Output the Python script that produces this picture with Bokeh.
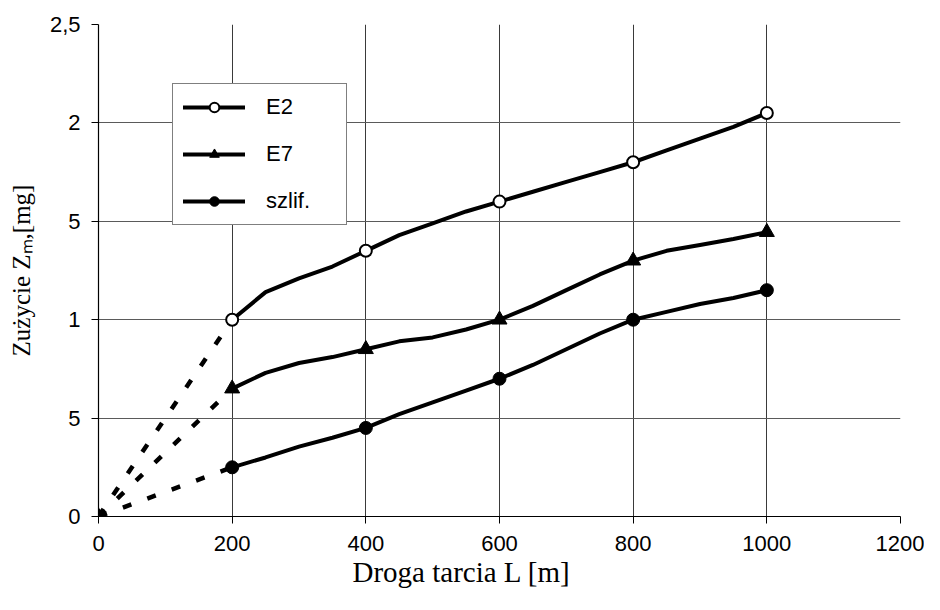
import math
from bokeh.plotting import figure
from bokeh.models import Range1d, FixedTicker, Legend, LegendItem, Title
from bokeh.embed import file_html
from bokeh.resources import INLINE

# ---- data ----
x_line = [200, 250, 300, 350, 400, 450, 500, 550, 600, 650, 700, 750, 800, 850, 900, 950, 1000]
e2_line = [1.00, 1.14, 1.21, 1.27, 1.35, 1.43, 1.49, 1.55, 1.60, 1.65, 1.70, 1.75, 1.80, 1.86, 1.92, 1.98, 2.05]
e7_line = [0.65, 0.73, 0.78, 0.81, 0.85, 0.89, 0.91, 0.95, 1.00, 1.07, 1.15, 1.23, 1.30, 1.35, 1.38, 1.41, 1.445]
szlif_line = [0.25, 0.30, 0.355, 0.40, 0.45, 0.52, 0.58, 0.64, 0.70, 0.77, 0.85, 0.93, 1.00, 1.04, 1.08, 1.11, 1.15]

x_marks = [0, 200, 400, 600, 800, 1000]
e2_marks = [0, 1.00, 1.35, 1.60, 1.80, 2.05]
e7_marks = [0, 0.65, 0.85, 1.00, 1.30, 1.445]
szlif_marks = [0, 0.25, 0.45, 0.70, 1.00, 1.15]

x_start = [0, 200]
x_ticks = [0, 200, 400, 600, 800, 1000, 1200]
y_ticks = [0, 0.5, 1.0, 1.5, 2.0, 2.5]
y_tick_labels = ["0", "5", "1", "5", "2", "2,5"]
series_names = ["E2", "E7", "szlif."]
x_title = "Droga tarcia L [m]"
y_title = "Zużycie Zₘ,[mg]"

SANS = "Liberation Sans"
SERIF = "Liberation Serif"

p = figure(width=924, height=594, output_backend="svg", toolbar_location=None,
           x_range=Range1d(0, 1200), y_range=Range1d(0, 2.5),
           min_border_left=98, min_border_right=24, min_border_top=24, min_border_bottom=78)
p.outline_line_color = None
p.background_fill_color = "white"
p.border_fill_color = "white"

# axes
p.xaxis.ticker = FixedTicker(ticks=x_ticks)
p.yaxis.ticker = FixedTicker(ticks=y_ticks)
p.yaxis.major_label_overrides = {t: l for t, l in zip(y_ticks, y_tick_labels)}
for ax in (p.xaxis, p.yaxis):
    ax.axis_line_color = "black"
    ax.axis_line_width = 1.2
    ax.major_tick_line_color = "black"
    ax.major_tick_in = 0
    ax.major_tick_out = 7
    ax.minor_tick_line_color = None
    ax.major_label_text_font = SANS
    ax.major_label_text_font_size = "22px"
    ax.major_label_text_color = "black"
p.xaxis.major_label_standoff = 12
p.yaxis.major_label_standoff = 11

# y axis title (subscript m)
p.yaxis.axis_label = y_title
p.yaxis.axis_label_text_font = SERIF
p.yaxis.axis_label_text_font_size = "25px"
p.yaxis.axis_label_text_font_style = "normal"
p.yaxis.axis_label_text_color = "black"
p.yaxis.axis_label_standoff = 12

p.xgrid.ticker = FixedTicker(ticks=x_ticks)
p.ygrid.ticker = FixedTicker(ticks=y_ticks)
p.xgrid.grid_line_color = "#3a3a3a"
p.ygrid.grid_line_color = "#5a5a5a"
p.xgrid.grid_line_width = 1
p.ygrid.grid_line_width = 1

# dotted start segments
for ys in (e2_marks, e7_marks, szlif_marks):
    p.line(x_start, ys[:2], line_color="black", line_width=4.5, line_dash="9 17", line_cap="butt")

# E2: open circles
l1 = p.line(x_line, e2_line, line_color="black", line_width=4, line_join="round", line_cap="round")
m1 = p.scatter(x_marks, e2_marks, marker="circle", size=12, fill_color="white", line_color="black", line_width=2)
# E7: triangles
l2 = p.line(x_line, e7_line, line_color="black", line_width=4, line_join="round", line_cap="round")
m2 = p.scatter(x_marks, e7_marks, marker="triangle", size=15, fill_color="black", line_color="black", line_width=1)
# szlif: filled circles
l3 = p.line(x_line, szlif_line, line_color="black", line_width=4, line_join="round", line_cap="round")
m3 = p.scatter(x_marks, szlif_marks, marker="circle", size=13, fill_color="black", line_color="black", line_width=1)

legend = Legend(items=[LegendItem(label=series_names[0], renderers=[l1, m1]),
                       LegendItem(label=series_names[1], renderers=[l2, m2]),
                       LegendItem(label=series_names[2], renderers=[l3, m3])],
                location=(74, 291))
legend.border_line_color = "black"
legend.border_line_width = 1
legend.background_fill_color = "white"
legend.background_fill_alpha = 1.0
legend.label_text_font = SANS
legend.label_text_font_size = "22px"
legend.label_text_color = "black"
legend.glyph_width = 62
legend.glyph_height = 24
legend.label_height = 24
legend.label_width = 70
legend.label_standoff = 21
legend.spacing = 21
legend.padding = 10
legend.margin = 0
p.add_layout(legend, "center")

# x axis title, placed left of centre like in the reference
xt = Title(text=x_title, align="left", offset=254, standoff=0,
           text_font=SERIF, text_font_size="29px", text_font_style="normal", text_color="black")
p.add_layout(xt, "below")

open("out.html", "w").write(file_html(p, INLINE))
